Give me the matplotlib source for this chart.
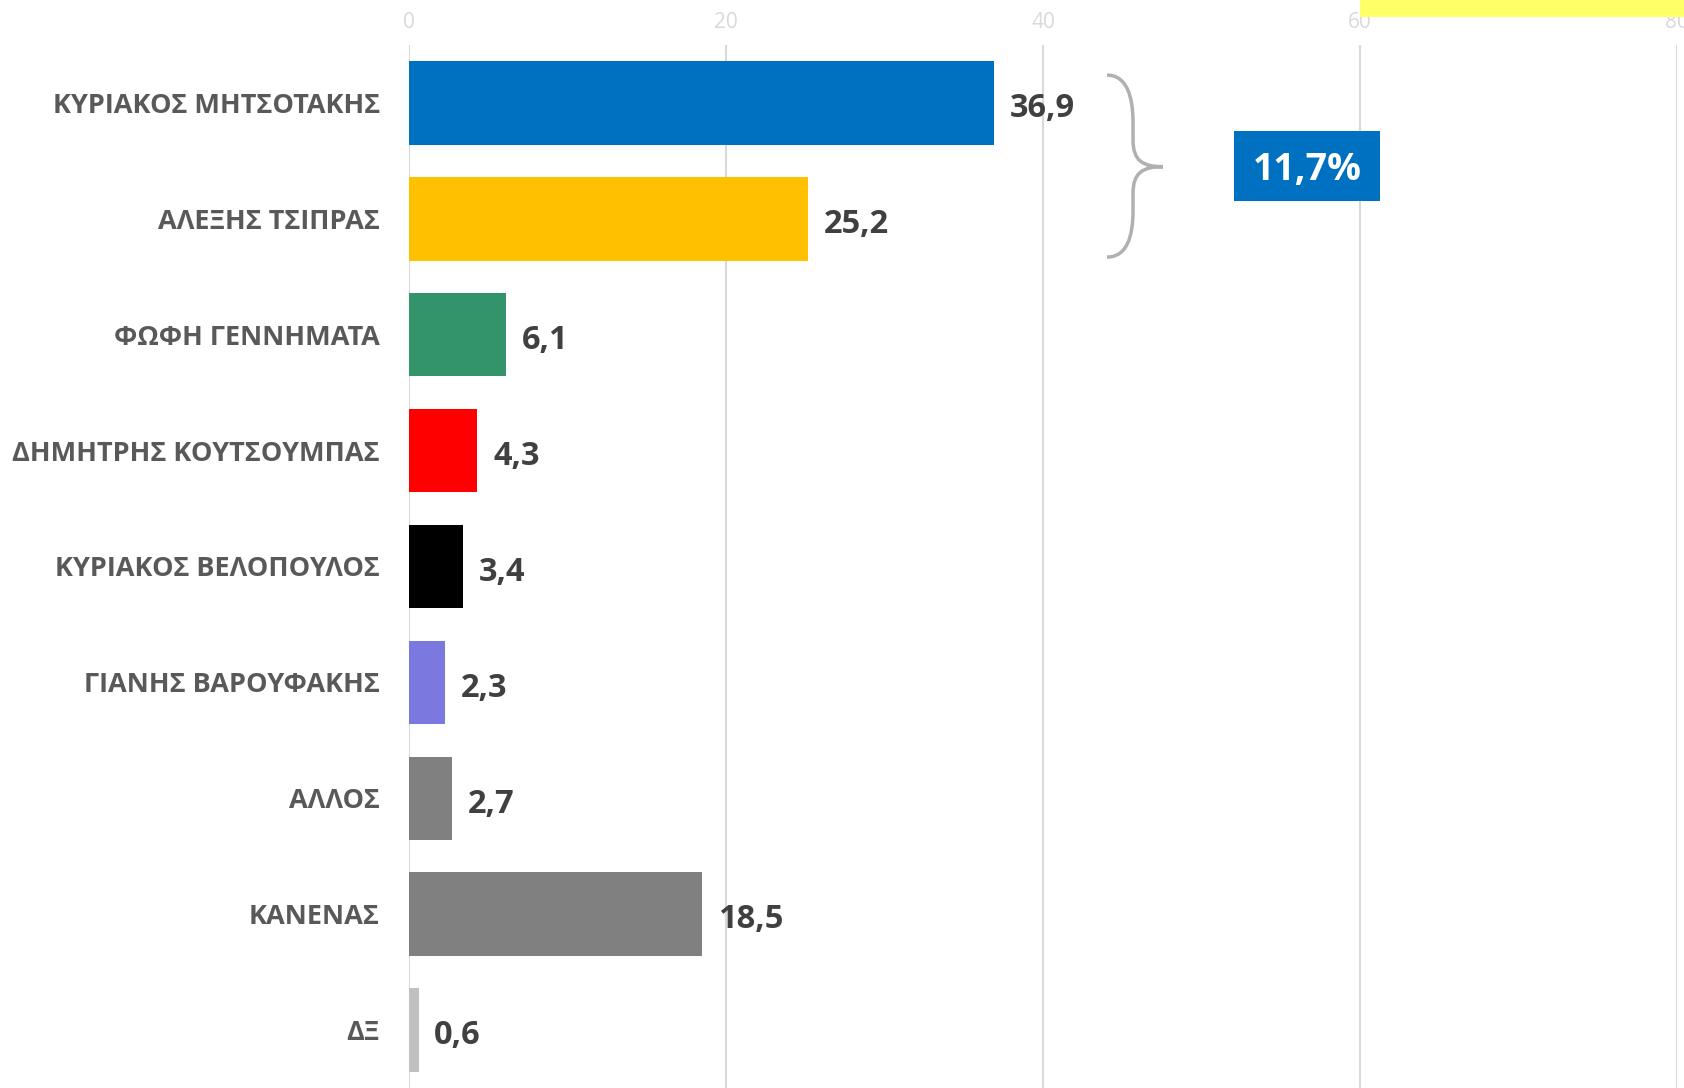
import matplotlib
matplotlib.use('Agg')
import matplotlib.pyplot as plt
from matplotlib.path import Path
from matplotlib.patches import PathPatch, Rectangle

names = ['ΚΥΡΙΑΚΟΣ ΜΗΤΣΟΤΑΚΗΣ', 'ΑΛΕΞΗΣ ΤΣΙΠΡΑΣ', 'ΦΩΦΗ ΓΕΝΝΗΜΑΤΑ',
         'ΔΗΜΗΤΡΗΣ ΚΟΥΤΣΟΥΜΠΑΣ', 'ΚΥΡΙΑΚΟΣ ΒΕΛΟΠΟΥΛΟΣ', 'ΓΙΑΝΗΣ ΒΑΡΟΥΦΑΚΗΣ',
         'ΑΛΛΟΣ', 'ΚΑΝΕΝΑΣ', 'ΔΞ']
values = [36.9, 25.2, 6.1, 4.3, 3.4, 2.3, 2.7, 18.5, 0.6]
colors = ['#0070C0', '#FFC000', '#33936A', '#FF0000', '#000000',
          '#7B78DF', '#808080', '#808080', '#C0C0C0']
ticks = [0, 20, 40, 60, 80]
gap_label = '11,7%'

plt.rcParams['font.family'] = ['Open Sans', 'DejaVu Sans']

W, H = 1684, 1088
fig = plt.figure(figsize=(W / 100, H / 100), dpi=100)
ax = fig.add_axes([409 / W, 0, (1677 - 409) / W, (H - 45) / H])

pos = list(range(len(names)))
ax.barh(pos, values, height=0.72, color=colors, zorder=3)
ax.set_ylim(len(names) - 0.5, -0.5)
ax.set_xlim(0, 80)

ax.xaxis.tick_top()
ax.set_xticks(ticks)
ax.tick_params(axis='x', length=0, colors='#D9D9D9', labelsize=15, pad=9)
ax.grid(axis='x', color='#D9D9D9', linewidth=1.5, zorder=0)
ax.set_yticks(pos)
ax.set_yticklabels(names, fontsize=19.5, fontweight='bold', color='#595959')
ax.tick_params(axis='y', length=0, pad=21)
for s in ax.spines.values():
    s.set_visible(False)

for p, v in zip(pos, values):
    ax.text(v + 1.0, p + 0.05, f'{v:.1f}'.replace('.', ','), va='center', ha='left',
            fontsize=23.5, fontweight='bold', color='#404040', zorder=4)

# brace grouping the two leading candidates
verts = [(44.04, -0.24), (45.3, -0.24), (45.68, -0.05), (45.68, 0.17),
         (45.68, 0.32),
         (45.68, 0.5), (46.3, 0.55), (47.57, 0.55),
         (46.3, 0.55), (45.68, 0.6), (45.68, 0.78),
         (45.68, 0.93),
         (45.68, 1.15), (45.3, 1.33), (44.04, 1.33)]
codes = [Path.MOVETO, Path.CURVE4, Path.CURVE4, Path.CURVE4,
         Path.LINETO,
         Path.CURVE4, Path.CURVE4, Path.CURVE4,
         Path.CURVE4, Path.CURVE4, Path.CURVE4,
         Path.LINETO,
         Path.CURVE4, Path.CURVE4, Path.CURVE4]
ax.add_patch(PathPatch(Path(verts, codes), facecolor='none', edgecolor='#B0B0B0',
                       linewidth=2.5, zorder=4, clip_on=False))

ax.add_patch(Rectangle((52.05, 0.24), 9.2, 0.61, facecolor='#0070C0',
                       edgecolor='none', zorder=4))
ax.text(56.65, 0.58, gap_label, ha='center', va='center', fontsize=27,
        fontweight='bold', color='white', zorder=5)

fig.patches.append(Rectangle((1360 / W, 1 - 17 / H), (W - 1360) / W, 17 / H,
                             transform=fig.transFigure, facecolor='#FFFF66',
                             edgecolor='none', zorder=10))

fig.savefig('out.png', dpi=100)
